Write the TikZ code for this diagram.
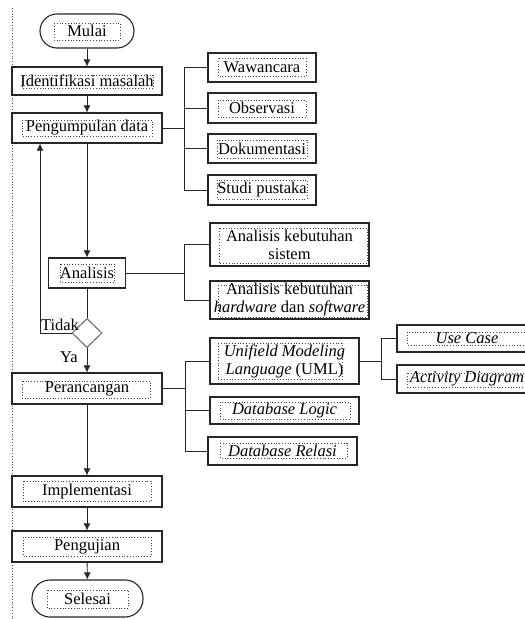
\documentclass[tikz,border=0pt]{standalone}
\usepackage{fontspec}
\setmainfont{Liberation Serif}
\usetikzlibrary{shapes.geometric,arrows.meta}
\begin{document}
\begin{tikzpicture}[x=1pt,y=-1pt,
  every node/.style={font=\fontsize{16.5}{18}\selectfont, text=black},
  innerline/.style={dotted, line width=0.8pt, black!75, sharp corners},
  % dotted text frame inset from the box border: {left}{right}{top}{bottom}
  frame/.style n args={4}{path picture={\draw[innerline]
      ([shift={(#1,-#3)}]path picture bounding box.north west) rectangle
      ([shift={(-#2,#4)}]path picture bounding box.south east);}},
  stepbox/.style={draw=black!85, line width=1.1pt, rectangle, inner sep=0pt,
      align=center, frame={10pt}{10pt}{6pt}{6pt}},
  endbox/.style={stepbox, rounded corners=17pt},
  link/.style={draw=black!85, line width=0.9pt},
  flow/.style={link, -{Latex[length=7pt,width=7pt]}},
]
\useasboundingbox (0,0) rectangle (525,619);
\clip (0,0) rectangle (525,619);
\fill[white] (0,0) rectangle (525,619);

% margin rule
\coordinate (mtop) at (12,8);
\coordinate (mbot) at (12,619);
\draw[dotted, line width=0.8pt, black!70] (mtop) -- (mbot);

% main column
\node[endbox, minimum width=94pt, minimum height=34pt, frame={14pt}{14pt}{9pt}{8pt}] (mulai) at (87,31) {Mulai};
\node[stepbox, minimum width=150pt, minimum height=28pt, frame={10pt}{9pt}{8pt}{7pt}] (ident) at (87,81) {Identifikasi masalah};
\node[stepbox, minimum width=150pt, minimum height=30pt, frame={10pt}{10pt}{7pt}{7pt}] (kumpul) at (87,128) {Pengumpulan data};
\node[stepbox, minimum width=77pt, minimum height=30pt, frame={12pt}{11pt}{6pt}{6pt}] (analisis) at (87,273) {Analisis};
\node[draw=black!60, line width=1pt, diamond, aspect=1, minimum width=30pt, minimum height=29pt, inner sep=0pt] (dec) at (87,333) {};
\node[stepbox, minimum width=150pt, minimum height=31pt, frame={10pt}{12pt}{8pt}{6pt}] (rancang) at (87,388.5) {Perancangan};
\node[stepbox, minimum width=150pt, minimum height=31pt, frame={11pt}{11pt}{5pt}{6pt}] (impl) at (87,491.5) {Implementasi};
\node[stepbox, minimum width=150pt, minimum height=31pt, frame={11pt}{11pt}{6pt}{6pt}] (uji) at (87,546.5) {Pengujian};
\node[endbox, minimum width=111pt, minimum height=37pt, rounded corners=18pt, frame={15pt}{15pt}{10pt}{9pt}] (selesai) at (87.5,598.5) {Selesai};

\node (tidak) at (60,325) {Tidak};
\node (ya) at (69,357) {Ya};

% data collection methods
\node[stepbox, minimum width=108pt, minimum height=29pt, frame={10pt}{10pt}{5pt}{6pt}] (waw) at (262,67.5) {Wawancara};
\node[stepbox, minimum width=108pt, minimum height=30pt, frame={10pt}{10pt}{7pt}{6pt}] (obs) at (262,108) {Observasi};
\node[stepbox, minimum width=108pt, minimum height=29pt, frame={9pt}{9pt}{6pt}{5pt}] (dok) at (262,148.5) {Dokumentasi};
\node[stepbox, minimum width=108pt, minimum height=30pt, frame={9pt}{9pt}{5pt}{6pt}] (studi) at (262,190) {Studi pustaka};

% analysis outputs
\node[stepbox, minimum width=159pt, minimum height=43pt, frame={9pt}{2pt}{5pt}{3pt}] (ak1) at (289.5,244.5) {Analisis kebutuhan\\sistem};
\node[stepbox, minimum width=159pt, minimum height=38pt, frame={8pt}{2pt}{4pt}{2pt}] (ak2) at (289.5,300) {Analisis kebutuhan\\\textit{hardware} dan \textit{software}};

% design outputs
\node[stepbox, minimum width=149pt, minimum height=46pt, frame={8pt}{17pt}{5pt}{5pt}] (uml) at (284.5,361) {\textit{Unifield Modeling}\\\textit{Language} (UML)};
\node[stepbox, minimum width=149pt, minimum height=27pt, frame={10pt}{9pt}{5pt}{5pt}] (dblogic) at (284.5,410.5) {\textit{Database Logic}};
\node[stepbox, minimum width=149pt, minimum height=28pt, frame={12pt}{10pt}{6pt}{7pt}] (dbrel) at (282.5,451) {\textit{Database Relasi}};

% UML diagrams
\node[stepbox, minimum width=140pt, minimum height=27pt, frame={10pt}{10pt}{7pt}{7pt}] (usecase) at (467,338.5) {\textit{Use Case}};
\node[stepbox, minimum width=140pt, minimum height=28pt, frame={10pt}{10pt}{8pt}{6pt}] (activity) at (467,379) {\textit{Activity Diagram}};

% main flow
\draw[flow] (mulai) -- (ident);
\draw[flow] (ident) -- (kumpul);
\draw[flow] (kumpul) -- (analisis);
\draw[link] (analisis) -- (dec);
\draw[flow] (dec) -- (rancang);
\draw[flow] (rancang) -- (impl);
\draw[flow] (impl) -- (uji);
\draw[flow] (uji) -- (selesai);

% loop back when the analysis is not complete
\coordinate (fb) at (40,0);
\draw[flow] (dec.west) -| (fb |- kumpul.south);

% branch buses
\coordinate (bus1) at (184,0);
\draw[link] (kumpul.east) -- (kumpul.east -| bus1)
  (bus1 |- waw.west) -- (bus1 |- studi.west)
  (bus1 |- waw.west) -- (waw.west)
  (bus1 |- obs.west) -- (obs.west)
  (bus1 |- dok.west) -- (dok.west)
  (bus1 |- studi.west) -- (studi.west);

\coordinate (bus2) at (184,0);
\draw[link] (analisis.east) -- (analisis.east -| bus2)
  (bus2 |- ak1.west) -- (bus2 |- ak2.west)
  (bus2 |- ak1.west) -- (ak1.west)
  (bus2 |- ak2.west) -- (ak2.west);

\coordinate (bus3) at (185,0);
\draw[link] (rancang.east) -- (rancang.east -| bus3)
  (bus3 |- uml.west) -- (bus3 |- dbrel.west)
  (bus3 |- uml.west) -- (uml.west)
  (bus3 |- dblogic.west) -- (dblogic.west)
  (bus3 |- dbrel.west) -- (dbrel.west);

\coordinate (bus4) at (381,0);
\draw[link] (uml.east) -- (uml.east -| bus4)
  (bus4 |- usecase.west) -- (bus4 |- activity.west)
  (bus4 |- usecase.west) -- (usecase.west)
  (bus4 |- activity.west) -- (activity.west);
\end{tikzpicture}
\end{document}
